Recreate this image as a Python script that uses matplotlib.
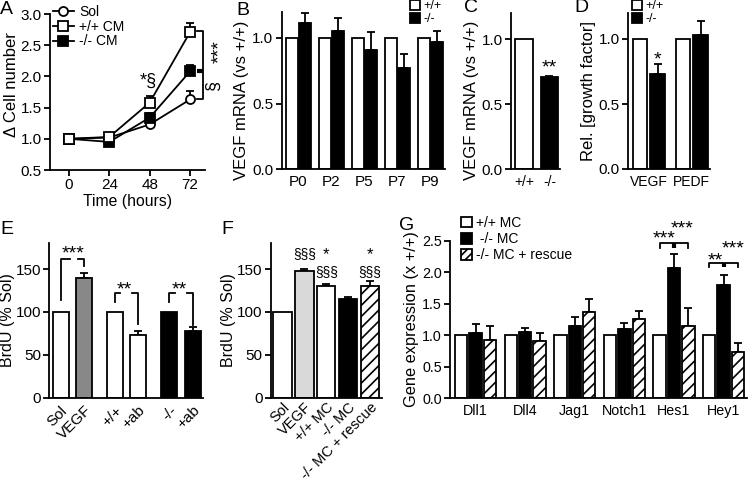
import numpy as np
import matplotlib.pyplot as plt
from matplotlib.patches import Patch
from matplotlib.lines import Line2D
from matplotlib.ticker import FormatStrFormatter
from matplotlib.transforms import offset_copy

plt.rcParams['font.family'] = ['Liberation Sans', 'DejaVu Sans']
plt.rcParams['hatch.linewidth'] = 1.2

# ---- data ----
# A: cell number over time
hours = [0, 24, 48, 72]
sol = [1.0, 1.02, 1.23, 1.63]
sol_err = [0.0, 0.02, 0.03, 0.13]
wt_cm = [1.0, 1.03, 1.58, 2.71]
wt_cm_err = [0.0, 0.02, 0.10, 0.14]
ko_cm = [1.0, 0.95, 1.34, 2.08]
ko_cm_err = [0.0, 0.02, 0.08, 0.10]

# B: VEGF mRNA by age
b_days = ['P0', 'P2', 'P5', 'P7', 'P9']
b_wt = [1.0, 1.0, 1.0, 1.0, 1.0]
b_ko = [1.11, 1.05, 0.91, 0.77, 0.97]
b_ko_err = [0.08, 0.10, 0.135, 0.11, 0.08]

# C
c_labels = ['+/+', '-/-']
c_vals = [1.0, 0.71]
c_err = [0.0, 0.01]

# D
d_labels = ['VEGF', 'PEDF']
d_wt = [1.0, 1.0]
d_ko = [0.73, 1.03]
d_ko_err = [0.08, 0.11]

# E
e_labels = ['Sol', 'VEGF', '+/+', '+ab', '-/-', '+ab']
e_vals = [100, 139, 100, 73, 100, 78]
e_err = [0, 6, 0, 5, 0, 4]
e_colors = ['white', '#888888', 'white', 'white', 'black', 'black']

# F
f_labels = ['Sol', 'VEGF', '+/+ MC', '-/- MC', '-/- MC + rescue']
f_vals = [100, 148, 130, 115, 130]
f_err = [0, 2.5, 3, 2.5, 6]
f_colors = ['white', '#d9d9d9', 'white', 'black', 'white']
f_hatch = [None, None, None, None, '///']

# G
genes = ['Dll1', 'Dll4', 'Jag1', 'Notch1', 'Hes1', 'Hey1']
g_wt = [1.0] * 6
g_ko = [1.04, 1.05, 1.15, 1.10, 2.06, 1.79]
g_ko_err = [0.14, 0.06, 0.14, 0.10, 0.23, 0.17]
g_res = [0.93, 0.91, 1.37, 1.26, 1.14, 0.735]
g_res_err = [0.21, 0.13, 0.20, 0.13, 0.29, 0.145]

W, H = 749, 484
fig = plt.figure(figsize=(W / 100, H / 100), dpi=100)

LW = 1.3
TICK = 11
LAB = 12
STAR = 14


def box(x0, ytop, x1, ybot):
    return [x0 / W, 1 - ybot / H, (x1 - x0) / W, (ybot - ytop) / H]


def style(ax, xticks=False, ts=TICK):
    for s in ['top', 'right']:
        ax.spines[s].set_visible(False)
    for s in ['left', 'bottom']:
        ax.spines[s].set_linewidth(LW)
    ax.tick_params(axis='y', length=4, width=LW, labelsize=ts, pad=2)
    if xticks:
        ax.tick_params(axis='x', length=4, width=LW, labelsize=ts, pad=2)
    else:
        ax.tick_params(axis='x', length=0, labelsize=ts, pad=4)


def ylab(ax, text, y=0.5, size=LAB, pad=2):
    ax.set_ylabel(text, fontsize=size, labelpad=pad)
    ax.yaxis.label.set_y(y)


def ebar(ax, x, y, err):
    x = np.asarray(x, float)
    y = np.asarray(y, float)
    err = np.asarray(err, float)
    m = err > 0
    ax.errorbar(x[m], y[m], yerr=[np.zeros(m.sum()), err[m]], fmt='none',
                ecolor='black', elinewidth=LW, capsize=3.2, capthick=LW, zorder=1)


def star(ax, x, y, s, size=STAR):
    # y is where the middle of the asterisks should sit
    tr = offset_copy(ax.transData, fig=fig, x=0, y=-0.58 * size, units='points')
    ax.text(x, y, s, fontsize=size, ha='center', va='baseline', transform=tr, clip_on=False)


def letter(t, x, y):
    fig.text(x / W, 1 - y / H, t, fontsize=14, ha='left', va='top')


def sq_legend(ax, handles, labels, x, y, fs=9, spacing=0.1):
    ax.legend(handles, labels, loc='upper left', bbox_to_anchor=(x / W, 1 - y / H),
              bbox_transform=fig.transFigure, frameon=False, fontsize=fs,
              handlelength=0.8, handleheight=0.8, handletextpad=0.25,
              labelspacing=spacing, borderpad=0, borderaxespad=0)


# ---------- A ----------
ax = fig.add_axes(box(50, 14, 205, 170))
style(ax, xticks=True)
for y, e in [(sol, sol_err), (wt_cm, wt_cm_err), (ko_cm, ko_cm_err)]:
    ebar(ax, hours, y, e)
ax.plot(hours, sol, '-o', color='black', mfc='white', mec='black', ms=6.5, mew=LW, lw=LW, zorder=3)
ax.plot(hours, ko_cm, '-s', color='black', mfc='black', mec='black', ms=6.5, mew=LW, lw=LW, zorder=3)
ax.plot(hours, wt_cm, '-s', color='black', mfc='white', mec='black', ms=6.5, mew=LW, lw=LW, zorder=3)
ax.set_xlim(-11.3, 80.9)
ax.set_ylim(0.5, 3.0)
ax.set_xticks(hours)
ax.set_yticks(np.arange(0.5, 3.01, 0.5))
ax.yaxis.set_major_formatter(FormatStrFormatter('%.1f'))
ax.set_xlabel('Time (hours)', fontsize=11.3, labelpad=1)
ylab(ax, '\u0394 Cell number', y=0.55, pad=1)
ax.text(47, 1.92, '*\u00a7', fontsize=13, ha='center', va='center')
ax.plot([76.3, 79.8, 79.8, 76.3], [2.72, 2.72, 1.63, 1.63], color='black', lw=LW, clip_on=False)
ax.plot([76.3, 79.8], [2.09, 2.09], color='black', lw=3, clip_on=False, solid_capstyle='butt')
ax.text(89.5, 2.40, '***', fontsize=STAR, rotation=90, ha='center', va='center', clip_on=False)
ax.text(86, 1.86, '\u00a7', fontsize=13, rotation=90, ha='center', va='center', clip_on=False)
hA = [Line2D([], [], color='black', marker='o', mfc='white', ms=6.5, mew=LW, lw=LW),
      Line2D([], [], color='black', marker='s', mfc='white', ms=6.5, mew=LW, lw=LW),
      Line2D([], [], color='black', marker='s', mfc='black', ms=6.5, mew=LW, lw=LW)]
ax.legend(hA, ['Sol', '+/+ CM', '-/- CM'], loc='upper left', bbox_to_anchor=(53 / W, 1 - 5 / H),
          bbox_transform=fig.transFigure, frameon=False, fontsize=10, handlelength=1.5,
          handletextpad=0.4, labelspacing=0.05, borderpad=0, borderaxespad=0)
letter('A', 0, 1)

# ---------- B ----------
ax = fig.add_axes(box(281.7, 11.6, 445, 169.3))
style(ax)
xb = np.arange(len(b_days))
ax.bar(xb - 0.19, b_wt, 0.35, color='white', edgecolor='black', lw=LW, zorder=2)
ax.bar(xb + 0.19, b_ko, 0.35, color='black', edgecolor='black', lw=LW, zorder=2)
ebar(ax, xb + 0.19, b_ko, b_ko_err)
ax.set_xlim(-0.51, 4.44)
ax.set_ylim(0, 1.2)
ax.set_yticks([0, 0.5, 1.0])
ax.yaxis.set_major_formatter(FormatStrFormatter('%.1f'))
ax.set_xticks(xb)
ax.set_xticklabels(b_days)
ylab(ax, 'VEGF mRNA (vs +/+)', y=0.44)
sq_legend(ax, [Patch(fc='white', ec='black', lw=LW), Patch(fc='black', ec='black', lw=LW)],
          ['+/+', '-/-'], 410, 0)
letter('B', 236, 2)

# ---------- C ----------
ax = fig.add_axes(box(511, 13.3, 560, 169.3))
style(ax)
xc = np.arange(len(c_labels))
ax.bar(xc, c_vals, 0.69, color=['white', 'black'], edgecolor='black', lw=LW, zorder=2)
ebar(ax, xc, c_vals, c_err)
star(ax, 1, 0.83, '**')
ax.set_xlim(-0.5, 1.41)
ax.set_ylim(0, 1.2)
ax.set_yticks([0, 0.5, 1.0])
ax.yaxis.set_major_formatter(FormatStrFormatter('%.1f'))
ax.set_xticks(xc)
ax.set_xticklabels(c_labels, fontsize=10)
ylab(ax, 'VEGF mRNA (vs +/+)', y=0.44)
letter('C', 464, -1)

# ---------- D ----------
ax = fig.add_axes(box(628.3, 13, 710, 169))
style(ax)
xd = np.arange(len(d_labels))
ax.bar(xd - 0.2035, d_wt, 0.337, color='white', edgecolor='black', lw=LW, zorder=2)
ax.bar(xd + 0.2035, d_ko, 0.337, color='black', edgecolor='black', lw=LW, zorder=2)
ebar(ax, xd + 0.2035, d_ko, d_ko_err)
star(ax, 0.2035, 0.89, '*')
ax.set_xlim(-0.476, 1.424)
ax.set_ylim(0, 1.2)
ax.set_yticks([0, 0.5, 1.0])
ax.yaxis.set_major_formatter(FormatStrFormatter('%.1f'))
ax.set_xticks(xd)
ax.set_xticklabels(d_labels, fontsize=10)
ylab(ax, 'Rel. [growth factor]')
sq_legend(ax, [Patch(fc='white', ec='black', lw=LW), Patch(fc='black', ec='black', lw=LW)],
          ['+/+', '-/-'], 632, 0)
letter('D', 574, -1)

# ---------- E ----------
ax = fig.add_axes(box(49.3, 243.3, 203, 397.7))
style(ax)
xe = np.array([0, 1, 2.3, 3.3, 4.63, 5.63])
ax.bar(xe, e_vals, 0.68, color=e_colors, edgecolor='black', lw=LW, zorder=2)
ebar(ax, xe, e_vals, e_err)
ax.set_xlim(-0.477, 6.06)
ax.set_ylim(0, 180)
ax.set_yticks([0, 50, 100, 150])
ax.set_xticks(xe)
ax.set_xticklabels(e_labels, rotation=45, ha='right', rotation_mode='anchor')
ylab(ax, 'BrdU (% Sol)', size=11.5, pad=0)
kw = dict(color='black', lw=LW, clip_on=False)
ax.plot([0, 0, 0.4], [114, 162, 162], **kw)
ax.plot([0.75, 1, 1], [162, 162, 153], **kw)
star(ax, 0.52, 175, '***')
ax.plot([2.3, 2.3, 2.55], [112, 122, 122], **kw)
ax.plot([3.05, 3.3, 3.3], [122, 122, 86], **kw)
star(ax, 2.72, 134, '**')
ax.plot([4.63, 4.63, 4.88], [112, 122, 122], **kw)
ax.plot([5.38, 5.63, 5.63], [122, 122, 85], **kw)
star(ax, 5.05, 134, '**')
letter('E', 0, 221)

# ---------- F ----------
ax = fig.add_axes(box(271, 243.3, 382, 397.7))
style(ax, ts=10.5)
xf = np.arange(len(f_labels))
bars = ax.bar(xf, f_vals, 0.845, color=f_colors, edgecolor='black', lw=LW, zorder=2)
for b, h in zip(bars, f_hatch):
    if h:
        b.set_hatch(h)
ebar(ax, xf, f_vals, f_err)
ax.set_xlim(-0.525, 4.55)
ax.set_ylim(0, 180)
ax.set_yticks([0, 50, 100, 150])
ax.tick_params(axis='y', labelsize=11)
ax.set_xticks(xf)
ax.set_xticklabels(f_labels, rotation=45, ha='right', rotation_mode='anchor')
ax.tick_params(axis='x', pad=2)
ylab(ax, 'BrdU (% Sol)', size=11.5, pad=1)
fs = 10
ax.text(1, 167, '\u00a7\u00a7\u00a7', fontsize=fs, ha='center', va='center')
star(ax, 2, 173, '*', size=12)
ax.text(2, 146, '\u00a7\u00a7\u00a7', fontsize=fs, ha='center', va='center')
star(ax, 4, 173, '*', size=12)
ax.text(4, 146, '\u00a7\u00a7\u00a7', fontsize=fs, ha='center', va='center')
letter('F', 221, 221)

# ---------- G ----------
ax = fig.add_axes(box(450, 240.7, 746.7, 398.3))
style(ax, ts=10.3)
xg = np.arange(len(genes))
ax.bar(xg - 0.29, g_wt, 0.25, color='white', edgecolor='black', lw=LW, zorder=2)
ax.bar(xg, g_ko, 0.25, color='black', edgecolor='black', lw=LW, zorder=2)
ax.bar(xg + 0.29, g_res, 0.25, color='white', edgecolor='black', lw=LW, hatch='///', zorder=2)
ebar(ax, xg, g_ko, g_ko_err)
ebar(ax, xg + 0.29, g_res, g_res_err)
ax.set_xlim(-0.516, 5.465)
ax.set_ylim(0, 2.5)
ax.set_yticks(np.arange(0, 2.51, 0.5))
ax.yaxis.set_major_formatter(FormatStrFormatter('%.1f'))
ax.set_xticks(xg)
ax.set_xticklabels(genes)
ylab(ax, 'Gene expression (x +/+)', size=11.8)
for gx, level in [(4, 2.46), (5, 2.15)]:
    ax.plot([gx - 0.29, gx - 0.29, gx + 0.29, gx + 0.29],
            [level - 0.07, level, level, level - 0.07], **kw)
    ax.plot([gx, gx], [level, level - 0.07], color='black', lw=3, clip_on=False, solid_capstyle='butt')
star(ax, 3.80, 2.63, '***')
star(ax, 4.17, 2.79, '***')
star(ax, 4.83, 2.28, '**')
star(ax, 5.20, 2.47, '***')
sq_legend(ax, [Patch(fc='white', ec='black', lw=LW), Patch(fc='black', ec='black', lw=LW),
               Patch(fc='white', ec='black', lw=LW, hatch='////')],
          ['+/+ MC', ' -/- MC', '-/- MC + rescue'], 461, 216, fs=10, spacing=0.15)
letter('G', 399, 217)

fig.savefig('out.png', dpi=100)
